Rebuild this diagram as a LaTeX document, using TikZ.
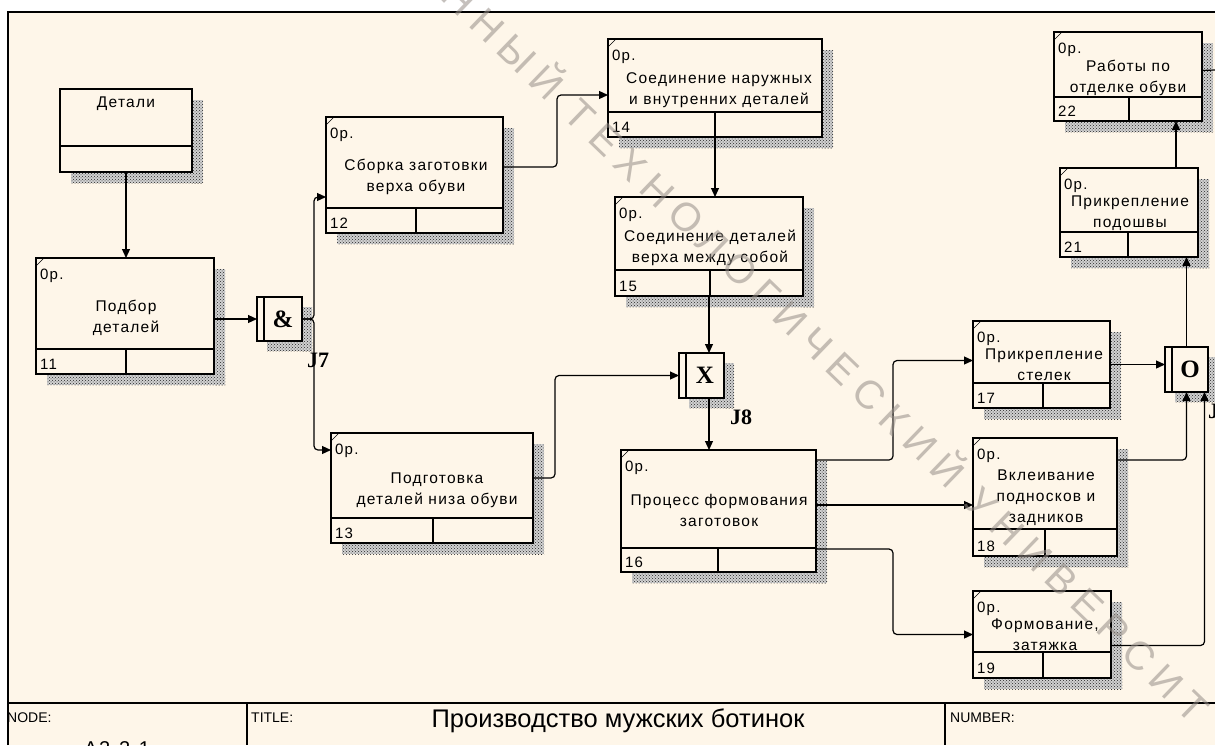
\documentclass[tikz,border=0pt]{standalone}
\usepackage{fontspec}
\setmainfont{Liberation Sans}
\newfontfamily\bxf{Liberation Sans}[LetterSpace=8]
\newfontfamily\wmf{Liberation Sans}[LetterSpace=23]
\newfontfamily\jnf{Liberation Serif}
\usetikzlibrary{arrows.meta,patterns}
\definecolor{bg}{RGB}{254,246,233}
\definecolor{wmc}{RGB}{150,142,135}
\tikzset{
 boxn/.style={draw, line width=1.2pt, fill=bg, inner sep=0pt, outer sep=0pt},
 inl/.style={line width=1.2pt},
 shd/.style={preaction={fill=black!18}, pattern=crosshatch dots, pattern color=black!85},
 lbl/.style={font=\bxf\fontsize{15}{16}\selectfont, inner sep=0pt},
 txt/.style={font=\bxf\fontsize{15.5}{21}\selectfont, align=center, inner sep=0pt},
 jsym/.style={font=\jnf\bfseries\fontsize{25}{25}\selectfont, inner sep=0pt},
 jlbl/.style={font=\jnf\bfseries\fontsize{22}{22}\selectfont, inner sep=0pt},
 conn/.style={line width=1.2pt, rounded corners=4pt},
 arr/.style={conn, -{Triangle[length=9pt,width=8pt]}},
 hdr/.style={font=\fontsize{14}{14}\selectfont, inner sep=0pt, anchor=base west},
}
% name x0 y0 x1 y1 rowy divx number
\newcommand\abox[8]{%
 \fill[shd] (#4,{#3+11}) rectangle ({#4+11},{#5+11});
 \fill[shd] ({#2+11},#5) rectangle ({#4+11},{#5+11});
 \node[boxn, minimum width={#4-#2}, minimum height={#5-#3}, anchor=north west] (#1) at (#2,#3) {};
 \draw[inl] (#2,#6) -- (#4,#6) (#7,#6) -- (#7,#5);
 \draw[line width=0.6pt] (#2,{#3+8}) -- ({#2+8},#3);
 \node[lbl, anchor=base west] (#1c) at ({#2+4},{#3+21}) {0р.};
 \node[lbl, anchor=base west] (#1n) at ({#2+4},{#5-5}) {#8};
}
% name x0 y0 x1 y1 symbol
\newcommand\jbox[6]{%
 \fill[shd] (#4,{#3+10}) rectangle ({#4+10},{#5+10});
 \fill[shd] ({#2+10},#5) rectangle ({#4+10},{#5+10});
 \node[boxn, minimum width={#4-#2}, minimum height={#5-#3}, anchor=north west] (#1) at (#2,#3) {};
 \draw[inl] ({#2+7},#3) -- ({#2+7},#5);
 \node[jsym] (#1s) at ({(#2+7+#4)/2},{(#3+#5)/2}) {#6};
}
\begin{document}
\begin{tikzpicture}[x=1pt,y=-1pt]
\useasboundingbox (0,0) rectangle (1215,745);
\fill[white] (0,0) rectangle (1215,745);
\fill[bg] (8,12) rectangle (1215,745);

% title block
\node[hdr] (hnode) at (7,722) {NODE:};
\draw[line width=1.5pt] (8,745) -- (8,12) -- (1215,12);
\draw[line width=1.3pt] (8,703) -- (1215,703);
\draw[line width=1.3pt] (247,703) -- (247,745) (945,703) -- (945,745);
\node[hdr] (htitle) at (251,722) {TITLE:};
\node[hdr] (hnum) at (950,722) {NUMBER:};
\node[font=\fontsize{25.5}{25.5}\selectfont, anchor=base, inner sep=0pt] (title) at (618,727) {Производство мужских ботинок};
\node[font=\bxf\fontsize{20}{20}\selectfont, anchor=north west, inner sep=0pt] (nodeid) at (84,741) {A2.2.1};

% reference box
\fill[shd] (192,100) rectangle (203,183);
\fill[shd] (71,172) rectangle (203,183);
\node[boxn, minimum width=132, minimum height=83, anchor=north west] (det) at (60,89) {};
\draw[inl] (60,146) -- (192,146);
\node[txt] (dett) at (126,104) {Детали};

% activity boxes
\abox{b11}{36}{258}{214}{374}{349}{126}{11}
\node[txt] (t11) at (126,318) {Подбор\\деталей};
\abox{b12}{326}{117}{503}{233}{208}{416}{12}
\node[txt] (t12) at (416,177) {Сборка заготовки\\верха обуви};
\abox{b13}{331}{433}{533}{543}{518}{433}{13}
\node[txt] (t13) at (437,490) {Подготовка\\деталей низа обуви};
\abox{b14}{608}{39}{822}{137}{112}{715}{14}
\node[txt] (t14) at (719,90) {Соединение наружных\\и внутренних деталей};
\abox{b15}{615}{197}{803}{296}{270}{710}{15}
\node[txt] (t15) at (710,248) {Соединение деталей\\верха между собой};
\abox{b16}{621}{450}{816}{572}{548}{718}{16}
\node[txt] (t16) at (719,510) {Процесс формования\\заготовок};
\abox{b17}{973}{321}{1110}{408}{383}{1043}{17}
\node[txt] (t17) at (1044,365) {Прикрепление\\стелек};
\abox{b18}{973}{438}{1117}{556}{529}{1045}{18}
\node[txt] (t18) at (1046,498) {Вклеивание\\подносков и\\задников};
\abox{b19}{973}{591}{1111}{678}{652}{1043}{19}
\node[txt] (t19) at (1045,635) {Формование,\\затяжка};
\abox{b21}{1060}{168}{1198}{257}{232}{1128}{21}
\node[txt] (t21) at (1130,213) {Прикрепление\\подошвы};
\abox{b22}{1054}{32}{1202}{121}{97}{1129}{22}
\node[txt] (t22) at (1128,78) {Работы по\\отделке обуви};

% junctions
\jbox{j7}{257}{297}{302}{341}{\&}
\node[jlbl] (j7l) at (318,360) {J7};
\jbox{j8}{679}{353}{724}{398}{X}
\node[jlbl] (j8l) at (741,417) {J8};
\jbox{jO}{1165}{347}{1208}{392}{O}
\node[jlbl, anchor=north west] (j9l) at (1208,404) {J9};

% connectors
\draw[arr] (det.south) -- (det.south |- b11.north);
\draw[arr] (b11.east |- j7.west) -- (j7.west);
\draw[arr] (j7.east) -| ([xshift=-12pt,yshift=-22pt]b12.west) -- ([yshift=-22pt]b12.west);
\draw[arr] (j7.east) -| ([xshift=-17pt,yshift=38pt]b13.west) -- ([yshift=38pt]b13.west);
\draw[arr] ([yshift=8pt]b12.east) -- ++(54,0) |- ([yshift=-7pt]b14.west);
\draw[arr] (b14.south) -- (b14.south |- b15.north);
\draw[arr] (b15.south) -- (b15.south |- j8.north);
\draw[arr] (b15.south |- j8.south) -- (b15.south |- b16.north);
\draw[arr] ([yshift=10pt]b13.east) -- ++(22,0) |- (j8.west);
\draw[arr] ([yshift=51pt]b16.east) -- ++(77,0) |- ([yshift=4pt]b17.west);
\draw[arr] ([yshift=6pt]b16.east) -- ([yshift=-8pt]b18.west);
\draw[arr] ([yshift=-38pt]b16.east) -- ++(77,0) |- (b19.west);
\draw[arr] (b17.east) -- (b17.east -| jO.west);
\draw[arr] ([yshift=37pt]b18.east) -| (jO.south);
\draw[arr] ([yshift=-11pt]b19.east) -| ([xshift=18pt]jO.south);
\draw[arr] (jO.north) -- (jO.north |- b21.south);
\draw[arr] ([xshift=47pt]b21.north) -- ([xshift=47pt]b21.north |- b22.south);
\coordinate (out22) at (1215,70);
\draw[conn] ([yshift=6pt]b22.east) -- (out22);

% watermark
\node[font=\wmf\fontsize{40}{40}\selectfont, text=wmc, opacity=0.55, rotate=-44, anchor=west, inner sep=0pt] (wm) at (452,-14) {ННЫЙ ТЕХНОЛОГИЧЕСКИЙ УНИВЕРСИТ};
\end{tikzpicture}
\end{document}
